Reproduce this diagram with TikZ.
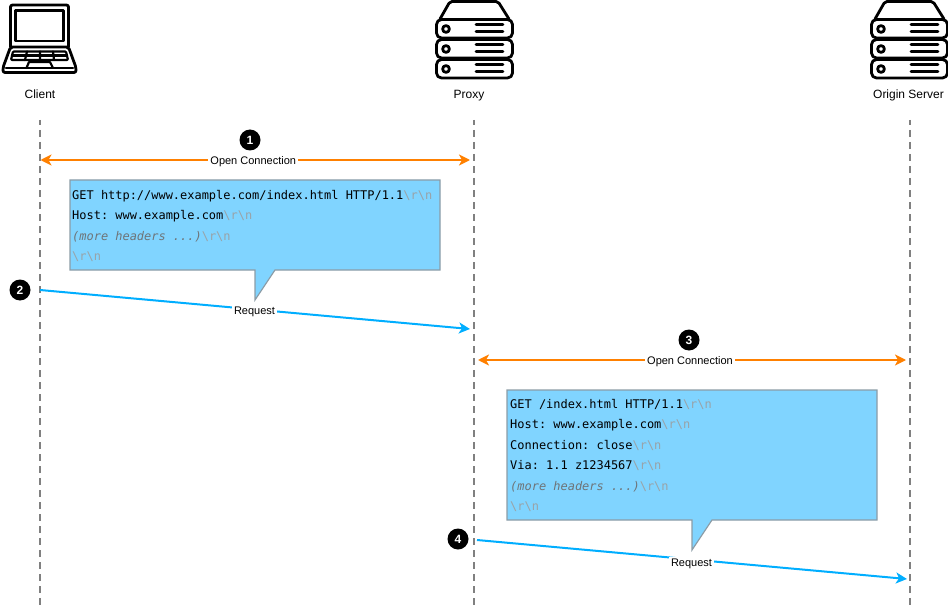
\documentclass[tikz,border=0pt]{standalone}
\usepackage{fontspec}
\setmainfont{Liberation Sans}
\newfontfamily\codefont{DejaVu Sans Mono}
\usetikzlibrary{arrows.meta}
\definecolor{orangeline}{HTML}{FF8000}
\definecolor{blueline}{HTML}{00AEFF}
\definecolor{calloutfill}{HTML}{80D4FF}
\definecolor{calloutedge}{HTML}{8C9CA6}
\definecolor{crlfgray}{HTML}{99A3A8}
\definecolor{moregray}{HTML}{6E7478}
\definecolor{lifegray}{HTML}{808080}
\newcommand{\crlfmark}{{\color{crlfgray}\textbackslash r\textbackslash n}}
\newcommand{\morehdr}{{\color{moregray}\itshape (more headers ...)}\crlfmark}
\tikzset{
  x=1pt,y=-1pt,
  lifeline/.style={draw=lifegray,line width=2pt,dash pattern=on 7pt off 5pt,dash phase=2pt},
  opentip/.style={-{Stealth[length=11pt,width=11pt,inset=3pt]}},
  orangearrow/.style={draw=orangeline,line width=2pt,{Stealth[length=11pt,width=11pt,inset=3pt]}-{Stealth[length=11pt,width=11pt,inset=3pt]}},
  bluearrow/.style={draw=blueline,line width=2pt,opentip},
  linelabel/.style={fill=white,font=\fontsize{11}{13}\selectfont,inner sep=2pt,text=black},
  actorlabel/.style={anchor=base,font=\fontsize{12}{13}\selectfont,text=black,inner sep=0pt},
  stepbadge/.style={circle,fill=black,text=white,minimum size=21pt,inner sep=0pt,font=\fontsize{12}{13}\selectfont\bfseries},
  callout/.style={fill=calloutfill,draw=calloutedge,line width=1.2pt,line join=miter},
  codeline/.style={anchor=base west,inner sep=0pt,font=\fontsize{11.96}{14}\codefont\frenchspacing,text=black},
  icon/.style={draw=black,line width=2.8pt,line join=round,line cap=round},
  server/.pic={
    \draw[icon,rounded corners=2pt] (5,19) -- (15,1.5) -- (63,1.5) -- (74,19);
    \foreach \t in {19.5,39.5,59.5}{
      \draw[icon,rounded corners=5pt] (1.5,\t) rectangle (77.5,\t+18.5);
      \draw[icon] (11,\t+9.5) circle (3.4);
      \draw[icon] (41,\t+5) -- (68,\t+5);
      \draw[icon] (41,\t+12) -- (68,\t+12);
    }
  },
}
\begin{document}
\begin{tikzpicture}
\useasboundingbox (0,0) rectangle (948,607);
% lifelines
\coordinate (clientTop) at (40,120);
\coordinate (clientEnd) at (40,607);
\coordinate (proxyTop) at (474,120);
\coordinate (proxyEnd) at (474,607);
\coordinate (originTop) at (910,120);
\coordinate (originEnd) at (910,607);
\draw[lifeline] (clientTop) -- (clientEnd);
\draw[lifeline] (proxyTop) -- (proxyEnd);
\draw[lifeline] (originTop) -- (originEnd);
% laptop icon
\draw[icon,rounded corners=2pt] (10.5,47) -- (10.5,5) -- (68.5,5) -- (68.5,47);
\draw[icon] (15.5,10.5) rectangle (63.5,41);
\draw[icon,rounded corners=2pt] (10.5,47) -- (3,67.5) -- (3,72.5) -- (76,72.5) -- (76,67.5) -- (68.5,47) -- cycle;
\draw[icon,line width=2.2pt,rounded corners=1pt] (13,51.5) -- (66,51.5) -- (68,60) -- (11,60) -- cycle;
\draw[icon,line width=2.2pt] (27,51.5) -- (25,60) (40,51.5) -- (40,60) (53,51.5) -- (54,60);
\draw[icon,line width=2.2pt] (12,55.5) -- (67,55.5);
\draw[icon,line width=2.2pt] (29,62) -- (26.5,68) (50,62) -- (53,68) (29,62) -- (50,62);
\draw[icon,line width=2.2pt] (6,68) -- (73,68);
% servers
\pic at (435,0) {server};
\pic at (870,0) {server};
% actor labels
\node[actorlabel] (clientLabel) at (40,99) {Client};
\node[actorlabel] (proxyLabel) at (469,99) {Proxy};
\node[actorlabel] (originLabel) at (908.5,99) {Origin Server};
% step 1
\node[stepbadge] (badgeOne) at (250,140) {1};
\coordinate (openA) at (40.5,160);
\coordinate (openB) at (470,160);
\draw[orangearrow] (openA) -- node[linelabel,xshift=-2pt,yshift=-1.5pt] (openLabelA) {Open Connection} (openB);
% callout 1
\draw[callout] (70,180) -- (440,180) -- (440,270) -- (275,270) -- (255,300) -- (255,270) -- (70,270) -- cycle;
\node[codeline] (reqA1) at (72,199.5) {GET http://www.example.com/index.html HTTP/1.1\crlfmark};
\node[codeline] (reqA2) at (72,219.5) {Host: www.example.com\crlfmark};
\node[codeline] (reqA3) at (72,240) {\morehdr};
\node[codeline] (reqA4) at (72,260.5) {\crlfmark};
% step 2
\node[stepbadge] (badgeTwo) at (20,290) {2};
\coordinate (reqStartA) at (40,290);
\coordinate (reqEndA) at (470,329);
\draw[bluearrow] (reqStartA) -- node[linelabel,pos=0.5,xshift=-0.5pt,yshift=-2.5pt] (reqLabelA) {Request} (reqEndA);
% step 3
\node[stepbadge] (badgeThree) at (689,340) {3};
\coordinate (openC) at (478,360);
\coordinate (openD) at (906,360);
\draw[orangearrow] (openC) -- node[linelabel,xshift=-2pt,yshift=-1.5pt] (openLabelB) {Open Connection} (openD);
% callout 2
\draw[callout] (507,390) -- (877,390) -- (877,520) -- (712,520) -- (692,550) -- (692,520) -- (507,520) -- cycle;
\node[codeline] (reqB1) at (510,408.5) {GET /index.html HTTP/1.1\crlfmark};
\node[codeline] (reqB2) at (510,428.5) {Host: www.example.com\crlfmark};
\node[codeline] (reqB3) at (510,449) {Connection: close\crlfmark};
\node[codeline] (reqB4) at (510,469.5) {Via: 1.1 z1234567\crlfmark};
\node[codeline] (reqB5) at (510,490) {\morehdr};
\node[codeline] (reqB6) at (510,510.5) {\crlfmark};
% step 4
\node[stepbadge] (badgeFour) at (458,539) {4};
\coordinate (reqStartB) at (477,540);
\coordinate (reqEndB) at (907,579);
\draw[bluearrow] (reqStartB) -- node[linelabel,pos=0.5,xshift=-0.5pt,yshift=-4.5pt] (reqLabelB) {Request} (reqEndB);
\end{tikzpicture}
\end{document}
